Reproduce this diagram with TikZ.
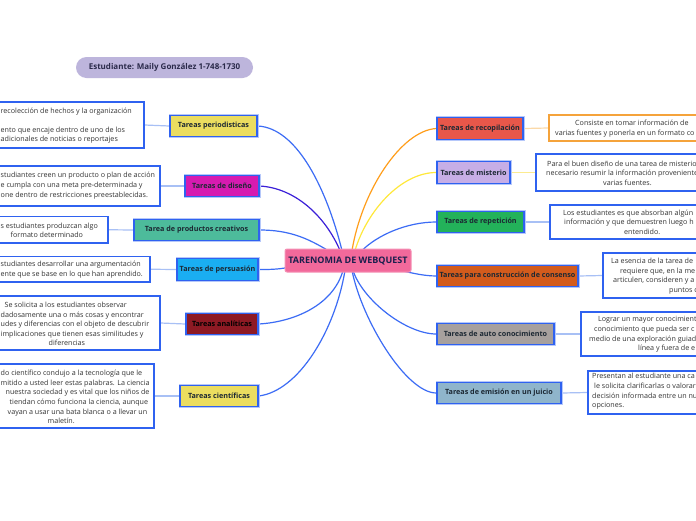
\documentclass[tikz,border=0pt]{standalone}
\usepackage{fontspec}
\setmainfont{Open Sans}
\definecolor{bblue}{HTML}{2F62F0}
\definecolor{linkblue}{HTML}{3C6CF5}
\definecolor{linkindigo}{HTML}{3B20D8}
\definecolor{linkorange}{HTML}{FF9E1B}
\definecolor{linkyellow}{HTML}{FFE83A}
\definecolor{sublblue}{HTML}{A8C0F5}
\definecolor{sublorange}{HTML}{FBD9A8}
\definecolor{sublyellow}{HTML}{FCEB8F}
\definecolor{boxorange}{HTML}{F5A33B}
\definecolor{btext}{HTML}{1C2833}
\definecolor{bodytext}{HTML}{333333}
\definecolor{cfill}{HTML}{F2699B}
\definecolor{cdraw}{HTML}{F592B6}
\definecolor{ctext}{HTML}{1A1F4D}
\definecolor{sfill}{HTML}{BDB5DC}
\definecolor{stext}{HTML}{2A2A4A}
\definecolor{cyellow}{HTML}{EBDD5F}
\definecolor{cmagenta}{HTML}{D61BB0}
\definecolor{cteal}{HTML}{4DBB9B}
\definecolor{ccyan}{HTML}{1AAEF2}
\definecolor{cdarkred}{HTML}{8E1A24}
\definecolor{cred}{HTML}{E8574A}
\definecolor{clavender}{HTML}{C7AEE6}
\definecolor{cgreen}{HTML}{23B25A}
\definecolor{corange}{HTML}{D35B1C}
\definecolor{cgrey}{HTML}{A7A09D}
\definecolor{cbluegrey}{HTML}{8FB5CB}
\pgfdeclarelayer{bg}
\pgfsetlayers{bg,main}
\begin{document}
\begin{tikzpicture}[x=1pt,y=-1pt,
  branch/.style={draw=bblue, line width=1.4pt, rectangle, inner sep=0pt,
    font=\bfseries\fontsize{7.2}{8.5}\selectfont, text=btext, minimum height=21.5pt,
    preaction={draw=bblue!35, line width=3pt}},
  tbox/.style={draw=bblue, line width=1.3pt, fill=white, inner sep=0pt, rectangle},
  ttext/.style={font=\fontsize{7.15}{9.6}\selectfont, text=bodytext, align=left, inner sep=0pt, anchor=west},
  mainlink/.style={draw=linkblue, line width=1.2pt},
  sublink/.style={draw=sublblue, line width=1.2pt}
]
\useasboundingbox (0,0) rectangle (696,520);
\clip (0,0) rectangle (696,520);

% student
\node[fill=sfill, rounded corners=10.5pt, minimum width=177pt, minimum height=21pt, inner sep=0pt,
  font=\bfseries\fontsize{8}{9}\selectfont, text=stext] (student) at (164.5,67.5) {Estudiante: Maily González 1-748-1730};

% center
\node[fill=cfill, draw=cdraw, line width=1pt, rounded corners=2pt, minimum width=126pt, minimum height=23pt, inner sep=0pt,
  font=\bfseries\fontsize{9}{10}\selectfont, text=ctext] (c) at (348,260.5) {TARENOMIA DE WEBQUEST};

% left branches
\node[branch, fill=cyellow, minimum width=87pt] (p1) at (213.5,126) {Tareas periodisticas};
\node[branch, fill=cmagenta, minimum width=74pt] (p2) at (222,186) {Tareas de diseño};
\node[branch, fill=cteal, minimum width=125pt] (p3) at (196.5,230) {Tarea de productos creativos};
\node[branch, fill=ccyan, minimum width=81pt] (p4) at (217.5,269.5) {Tareas de persuasión};
\node[branch, fill=cdarkred, minimum width=72pt, text=black] (p5) at (222,324) {Tareas analíticas};
\node[branch, fill=cyellow, minimum width=78pt] (p6) at (219,396) {Tareas científicas};

% right branches
\node[branch, fill=cred, minimum width=86pt] (r1) at (480,128.5) {Tareas de recopilación};
\node[branch, fill=clavender, minimum width=73pt] (r2) at (473.5,172.5) {Tareas de misterio};
\node[branch, fill=cgreen, minimum width=87pt] (r3) at (480.5,222) {Tareas de repetición};
\node[branch, fill=corange, minimum width=141pt] (r4) at (507.5,276) {Tareas para construcción de consenso};
\node[branch, fill=cgrey, minimum width=117pt] (r5) at (495.5,334) {Tareas de auto conocimiento};
\node[branch, fill=cbluegrey, minimum width=124pt] (r6) at (499,393) {Tareas de emisión en un juicio};

% left text boxes
\node[tbox, minimum width=184pt, minimum height=46pt] (b1) at (52,125) {};
\node[ttext] (t1) at (0.5,125.7) {recolección de hechos y la organización\\\mbox{}\\ento que encaje dentro de uno de los\\adicionales de noticias o reportajes};
\node[tbox, minimum width=200pt, minimum height=40pt] (b2) at (60,186) {};
\node[ttext] (t2) at (0.5,185.7) {studiantes creen un producto o plan de acción\\e cumpla con una meta pre-determinada y\\one dentro de restricciones preestablecidas.};
\node[tbox, minimum width=148pt, minimum height=26.5pt] (b3) at (34,229.75) {};
\node[ttext] (t3) at (0.5,230.3) {s estudiantes produzcan algo\\\hspace*{10pt}formato determinado};
\node[tbox, minimum width=190pt, minimum height=25.5pt] (b4) at (55,269.25) {};
\node[ttext] (t4) at (0.5,269.7) {studiantes desarrollar una argumentación\\ente que se base en lo que han aprendido.};
\node[tbox, minimum width=200pt, minimum height=54pt] (b5) at (60,323) {};
\node[ttext] (t5) at (0.5,324) {\hspace*{4pt}Se solicita a los estudiantes observar\\dadosamente una o más cosas y encontrar\\udes y diferencias con el objeto de descubrir\\implicaciones que tienen esas similitudes y\\\hspace*{48pt}diferencias};
\node[tbox, minimum width=194pt, minimum height=64pt] (b6) at (57,396) {};
\node[ttext] (t6) at (0.5,397) {do científico condujo a la tecnología que le\\mitido a usted leer estas palabras. La ciencia\\\hspace*{5pt}nuestra sociedad y es vital que los niños de\\\hspace*{9pt}tiendan cómo funciona la ciencia, aunque\\\hspace*{7pt}vayan a usar una bata blanca o a llevar un\\\hspace*{47pt}maletín.};

% right text boxes
\node[tbox, draw=boxorange, minimum width=211pt, minimum height=26pt] (rb1) at (654.5,128) {};
\node[ttext] (rt1) at (555,128.8) {\hspace*{20pt}Consiste en tomar información de\\varias fuentes y ponerla en un formato co};
\node[tbox, minimum width=224pt, minimum height=37pt] (rb2) at (648,172.5) {};
\node[ttext] (rt2) at (546,173) {\hspace*{1pt}Para el buen diseño de una tarea de misterio\\necesario resumir la información proveniente\\\hspace*{57pt}varias fuentes.};
\node[tbox, minimum width=210pt, minimum height=34pt] (rb3) at (655,222) {};
\node[ttext] (rt3) at (563,222) {Los estudiantes es que absorban algún\\\hspace*{1pt}información y que demuestren luego h\\\hspace*{61pt}entendido.};
\node[tbox, minimum width=157pt, minimum height=45pt] (rb4) at (681.5,275.5) {};
\node[ttext] (rt4) at (611,276) {La esencia de la tarea de\\\hspace*{9pt}requiere que, en la me\\\hspace*{2pt}articulen, consideren y a\\\hspace*{58pt}puntos d};
\node[tbox, minimum width=179pt, minimum height=44pt] (rb5) at (670.5,334) {};
\node[ttext] (rt5) at (589,334.5) {\hspace*{9pt}Lograr un mayor conocimient\\\hspace*{5pt}conocimiento que pueda ser c\\medio de una exploración guiad\\\hspace*{49pt}línea y fuera de e};
\node[tbox, minimum width=172pt, minimum height=43pt] (rb6) at (674,392.5) {};
\node[ttext] (rt6) at (592,391.5) {Presentan al estudiante una ca\\\hspace*{2pt}le solicita clarificarlas o valorar\\decisión informada entre un nu\\opciones.};

\begin{pgfonlayer}{bg}
\fill[white] (0,0) rectangle (696,520);
% main links, left
\draw[mainlink] (p1.east) .. controls +(40,2) and +(-15,-60) .. ([xshift=-6pt,yshift=-2pt]c.north);
\draw[mainlink, draw=linkindigo] (p2.east) .. controls +(35,2) and +(-15,-35) .. ([xshift=-8pt,yshift=-2pt]c.north);
\draw[mainlink] (p3.east) .. controls +(30,0) and +(-20,-12) .. ([xshift=-20pt,yshift=-2pt]c.north);
\draw[mainlink] (p4.east) .. controls +(10,0) and +(-10,2) .. ([xshift=3pt,yshift=-7pt]c.west);
\draw[mainlink] (p5.east) .. controls +(35,-2) and +(-10,35) .. ([xshift=-5pt,yshift=2pt]c.south);
\draw[mainlink] (p6.east) .. controls +(40,-5) and +(-10,60) .. ([xshift=-3pt,yshift=2pt]c.south);
% main links, right
\draw[mainlink, draw=linkorange] (r1.west) .. controls +(-35,2) and +(10,-60) .. ([xshift=4pt,yshift=-2pt]c.north);
\draw[mainlink, draw=linkyellow] (r2.west) .. controls +(-35,0) and +(12,-40) .. ([xshift=7pt,yshift=-2pt]c.north);
\draw[mainlink] (r3.west) .. controls +(-30,0) and +(15,-15) .. ([xshift=14pt,yshift=-2pt]c.north);
\draw[mainlink] (r4.west) .. controls +(-15,0) and +(15,3) .. ([xshift=-20pt,yshift=4pt]c.south east);
\draw[mainlink] (r5.west) .. controls +(-30,0) and +(10,30) .. ([xshift=5pt,yshift=2pt]c.south);
\draw[mainlink] (r6.west) .. controls +(-30,0) and +(10,50) .. ([xshift=4pt,yshift=2pt]c.south);
% sub links
\draw[sublink] (p1.west) -- (b1.east);
\draw[sublink] (p2.west) -- (b2.east);
\draw[sublink] (p3.west) -- (b3.east);
\draw[sublink] (p4.west) -- (b4.east);
\draw[sublink] (p5.west) -- (b5.east);
\draw[sublink] (p6.west) -- (b6.east);
\draw[sublink, draw=sublorange] (r1.east) -- (rb1.west);
\draw[sublink, draw=sublyellow] (r2.east) -- (rb2.west);
\draw[sublink] (r3.east) -- (rb3.west);
\draw[sublink] (r4.east) -- (rb4.west);
\draw[sublink] (r5.east) -- (rb5.west);
\draw[sublink] (r6.east) -- (rb6.west);
\end{pgfonlayer}
\end{tikzpicture}
\end{document}
